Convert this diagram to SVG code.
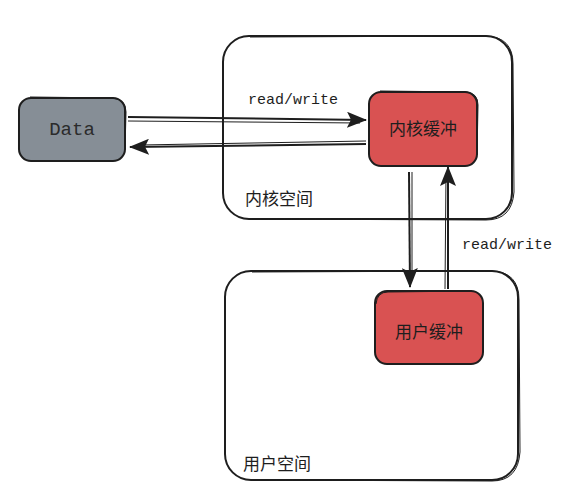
<svg xmlns="http://www.w3.org/2000/svg" width="567" height="495" viewBox="0 0 567 495">
<style>
.frame{fill:#ffffff;stroke:#1e1e1e;stroke-width:2}
.sk{fill:none;stroke:#1e1e1e;stroke-width:1}
.buf{fill:#d95252;stroke:#1e1e1e;stroke-width:2}
.data{fill:#868e96;stroke:#1e1e1e;stroke-width:2}
.cjk{font-family:"Noto Sans CJK SC","Noto Sans",sans-serif;font-size:17px;fill:#1e1e1e}
.hand{font-family:"Liberation Mono","DejaVu Sans Mono",monospace;font-size:15px;fill:#1e1e1e}
.line{fill:none;stroke:#1e1e1e;stroke-width:2}
.line2{fill:none;stroke:#1e1e1e;stroke-width:1}
</style>
<defs>
<marker id="arr" viewBox="0 0 20 16" refX="19" refY="8" markerWidth="20" markerHeight="16" orient="auto" markerUnits="userSpaceOnUse">
<path d="M0,0 L20,8 L0,16 L4,8 Z" fill="#1e1e1e"/>
</marker>
</defs>
<g id="kernel-space">
<rect class="frame" x="223" y="36" width="289" height="183" rx="26"/>
<path class="sk" d="M250,37 L486,36 Q513,37 513,64 L514,192 Q512,220 486,220 L250,219"/>
<text class="cjk" x="245" y="205">内核空间</text>
</g>
<g id="user-space">
<rect class="frame" x="225" y="271" width="293" height="209" rx="26"/>
<path class="sk" d="M252,272 L492,271 Q519,272 519,300 L520,452 Q518,481 492,481 L252,480"/>
<text class="cjk" x="243" y="470">用户空间</text>
</g>
<g id="data">
<rect class="data" x="19" y="98" width="106" height="63" rx="12"/>
<path class="sk" d="M30,97 L112,98 Q126,99 126,112 L125,150"/>
<text class="hand" x="72" y="135" text-anchor="middle" style="font-size:19px;fill:#2b2b2b">Data</text>
</g>
<g id="kernel-buffer">
<rect class="buf" x="369" y="92" width="108" height="74" rx="12"/>
<path class="sk" d="M380,91 L466,92 Q478,93 478,105 L477,155"/>
<text class="cjk" x="423" y="135" text-anchor="middle">内核缓冲</text>
</g>
<g id="user-buffer">
<rect class="buf" x="375" y="291" width="108" height="73" rx="12"/>
<path class="sk" d="M376,304 Q377,292 388,292 L472,291"/>
<text class="cjk" x="429" y="338" text-anchor="middle">用户缓冲</text>
</g>
<g id="connectors">
<path class="line" d="M128,117 L366,120" marker-end="url(#arr)"/>
<path class="line2" d="M128,121 L360,123"/>
<path class="line" d="M366,144 L130,147" marker-end="url(#arr)"/>
<path class="line2" d="M366,141 L140,145"/>
<path class="line" d="M409,172 L410,287" marker-end="url(#arr)"/>
<path class="line2" d="M412,172 L412,280"/>
<path class="line" d="M448,289 L448,167" marker-end="url(#arr)"/>
<path class="line2" d="M445,289 L446,175"/>
<text class="hand" x="248" y="104">read/write</text>
<text class="hand" x="462" y="249">read/write</text>
</g>
</svg>
